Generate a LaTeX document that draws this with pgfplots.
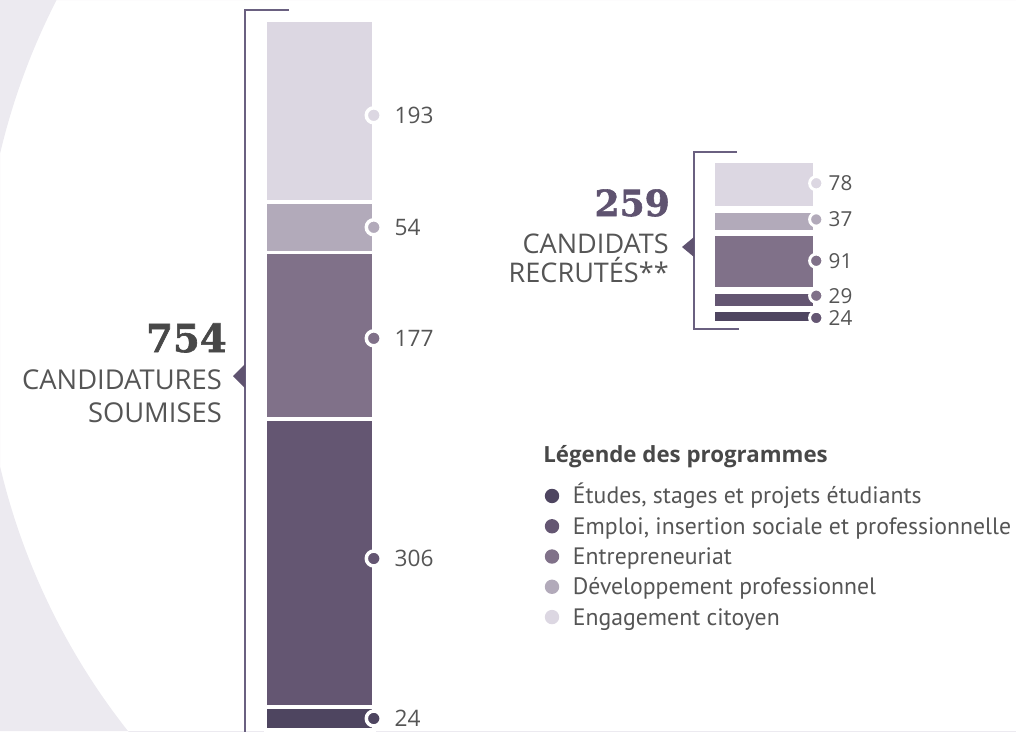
\documentclass[border=0pt]{standalone}
\usepackage{fontspec}
\setmainfont{PT Sans}
\newfontfamily\heavy{DejaVu Serif}[BoldFeatures={FakeBold=1.6}]
\newfontfamily\osans{Open Sans}
\usepackage{pgfplots}
\pgfplotsset{compat=1.18}
\definecolor{cA}{HTML}{4E4560}
\definecolor{cB}{HTML}{645672}
\definecolor{cC}{HTML}{807189}
\definecolor{cD}{HTML}{B2AABA}
\definecolor{cE}{HTML}{DCD7E2}
\definecolor{brk}{HTML}{6A6080}
\definecolor{ptr}{HTML}{5F5370}
\definecolor{txt}{HTML}{555555}
\definecolor{dark}{HTML}{484848}
\definecolor{bgc}{HTML}{ECEAF0}
\pgfplotsset{dotlegend/.style={legend image code/.code={\fill[##1,draw=none] (5.4pt,6pt) circle (5.4pt);}}}
\begin{document}
\begin{tikzpicture}
\begin{scope}[x=0.75pt,y=-0.75pt]
\useasboundingbox (0,0) rectangle (1016,731);
\begin{scope}
\clip (0,0) rectangle (1016,731);
\fill[bgc, even odd rule] (0,0) rectangle (1016,731) (662,310) circle[radius=510pt];
\draw[brk, line width=1.1pt] (289,10) -- (245,10) -- (245,735);
\end{scope}
\draw[brk, line width=1.1pt] (737,152) -- (694,152) -- (694,329) -- (739,329);
\fill[ptr] (233,376) -- (245,364) -- (245,388) -- cycle;
\fill[ptr] (682,247) -- (694,237) -- (694,257) -- cycle;
\node[anchor=base east, inner sep=0pt, text=dark] at (227,352) {\heavy\bfseries\fontsize{29}{29}\selectfont 754};
\node[anchor=base east, inner sep=0pt, text=txt] at (222,389) {\osans\fontsize{20.5}{20.5}\selectfont CANDIDATURES};
\node[anchor=base east, inner sep=0pt, text=txt] at (222,422) {\osans\fontsize{20.5}{20.5}\selectfont SOUMISES};
\node[anchor=base east, inner sep=0pt, text=ptr] at (670,216) {\heavy\bfseries\fontsize{27}{27}\selectfont 259};
\node[anchor=base east, inner sep=0pt, text=txt] at (669,253) {\osans\fontsize{20.3}{20.3}\selectfont CANDIDATS};
\node[anchor=base east, inner sep=0pt, text=txt] at (669,282) {\osans\fontsize{20.3}{20.3}\selectfont RECRUTÉS**};
\node[anchor=base west, inner sep=0pt, text=dark] at (543,462) {\osans\bfseries\fontsize{16.7}{16.7}\selectfont Légende des programmes};
\end{scope}

% big stacked bar
\begin{axis}[
  at={(198.9375pt,-547.3125pt)}, anchor=south west,
  scale only axis, width=81.375pt, height=532.125pt,
  xmin=-0.5, xmax=0.5, ymin=0, ymax=754,
  hide axis, clip=false,
  ybar stacked, bar width=81.375pt,
  every axis plot/.append style={draw=white, line width=2.625pt},
  legend style={at={(2.5765,0.3464)}, anchor=north west, draw=none, fill=none,
    inner sep=0pt, outer sep=0pt, row sep=0pt, column sep=10.3pt,
    nodes={inner sep=0pt, anchor=base west, text height=15pt, text depth=7.7pt,
      text=txt, font=\fontsize{17.8}{17.8}\selectfont}},
]
\addplot[fill=cA, dotlegend] coordinates {(0,24)};
\addlegendentry{Études, stages et projets étudiants}
\addplot[fill=cB, dotlegend] coordinates {(0,306)};
\addlegendentry{Emploi, insertion sociale et professionnelle}
\addplot[fill=cC, dotlegend] coordinates {(0,177)};
\addlegendentry{Entrepreneuriat}
\addplot[fill=cD, dotlegend] coordinates {(0,54)};
\addlegendentry{Développement professionnel}
\addplot[fill=cE, dotlegend] coordinates {(0,193)};
\addlegendentry{Engagement citoyen}
\end{axis}

% big bar value dots and labels
\begin{axis}[
  at={(198.9375pt,-547.3125pt)}, anchor=south west,
  scale only axis, width=81.375pt, height=532.125pt,
  xmin=-0.5, xmax=0.5, ymin=0, ymax=754,
  hide axis, clip=false,
  point meta=explicit symbolic,
  nodes near coords={\pgfplotspointmeta},
  every node near coord/.style={anchor=west, xshift=14.4pt, inner sep=0pt, text=txt, font=\osans\fontsize{17}{17}\selectfont},
  every axis plot/.append style={only marks, mark=*, mark size=5.6pt},
]
\addplot[mark options={fill=cA, draw=white, line width=2.6pt}] coordinates {(0.5,12) [24]};
\addplot[mark options={fill=cB, draw=white, line width=2.6pt}] coordinates {(0.5,182) [306]};
\addplot[mark options={fill=cC, draw=white, line width=2.6pt}] coordinates {(0.5,416) [177]};
\addplot[mark options={fill=cD, draw=white, line width=2.6pt}] coordinates {(0.5,534) [54]};
\addplot[mark options={fill=cE, draw=white, line width=2.6pt}] coordinates {(0.5,653) [193]};
\end{axis}

% small stacked bar
\begin{axis}[
  at={(533.8125pt,-243.1875pt)}, anchor=south west,
  scale only axis, width=78.375pt, height=123.375pt,
  xmin=-0.5, xmax=0.5, ymin=0, ymax=259,
  hide axis, clip=false,
  ybar stacked, bar width=78.375pt,
  every axis plot/.append style={draw=white, line width=4.875pt},
]
\addplot[fill=cA] coordinates {(0,24)};
\addplot[fill=cB] coordinates {(0,29)};
\addplot[fill=cC] coordinates {(0,91)};
\addplot[fill=cD] coordinates {(0,37)};
\addplot[fill=cE] coordinates {(0,78)};
\end{axis}

\begin{axis}[
  at={(533.8125pt,-243.1875pt)}, anchor=south west,
  scale only axis, width=78.375pt, height=123.375pt,
  xmin=-0.5, xmax=0.5, ymin=0, ymax=259,
  hide axis, clip=false,
  point meta=explicit symbolic,
  nodes near coords={\pgfplotspointmeta},
  every node near coord/.style={anchor=west, xshift=8.25pt, inner sep=0pt, text=txt, font=\osans\fontsize{15.5}{15.5}\selectfont},
  every axis plot/.append style={only marks, mark=*, mark size=5pt},
]
\addplot[mark options={fill=cB, draw=white, line width=2.2pt}] coordinates {(0.5,10) [24]};
\addplot[mark options={fill=cC, draw=white, line width=2.2pt}] coordinates {(0.5,45) [29]};
\addplot[mark options={fill=cC, draw=white, line width=2.2pt}] coordinates {(0.5,100) [91]};
\addplot[mark options={fill=cD, draw=white, line width=2.2pt}] coordinates {(0.5,165) [37]};
\addplot[mark options={fill=cE, draw=white, line width=2.2pt}] coordinates {(0.5,222) [78]};
\end{axis}
\end{tikzpicture}
\end{document}
